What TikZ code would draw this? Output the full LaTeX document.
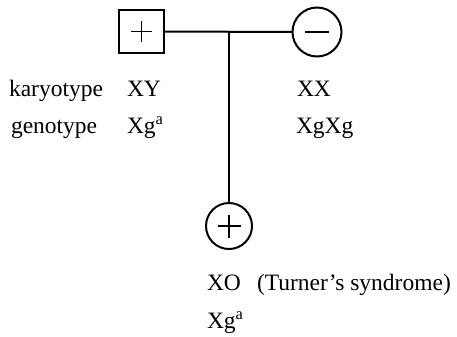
\documentclass[tikz,border=0pt]{standalone}
\usepackage{fontspec}
\setmainfont{Liberation Serif}
\begin{document}
\begin{tikzpicture}[x=1bp,y=-1bp,
    every node/.style={inner sep=0pt,outer sep=0pt},
    outline/.style={draw,line width=2bp},
    male/.style={outline,rectangle,minimum width=45bp,minimum height=43bp},
    female/.style={outline,circle,minimum size=#1},
    plussign/.style={path picture={
        \draw[line width=1.8bp] ([xshift=-#1]path picture bounding box.center) -- ([xshift=#1]path picture bounding box.center);
        \draw[line width=1.8bp] ([yshift=-#1]path picture bounding box.center) -- ([yshift=#1]path picture bounding box.center);}},
    minussign/.style={path picture={
        \draw[line width=1.8bp] ([xshift=-#1]path picture bounding box.center) -- ([xshift=#1]path picture bounding box.center);}},
    label/.style={anchor=base west,font=\fontsize{23.5bp}{28bp}\selectfont},
    link/.style={line width=2bp}]
\useasboundingbox (0,0) rectangle (457,336);

% parents and child
\node[male,plussign=10.5bp] (father) at (141.5,31.5) {};
\node[female=49bp,minussign=12bp] (mother) at (317,32) {};
\node[female=46bp,plussign=11.5bp] (child) at (229,226) {};

% mating line and descent line
\coordinate (mate) at (father.east -| child);
\draw[link] (father) -- (mother);
\draw[link] (mate) -- (child);

% annotations
\node[label] (karyo) at (9,96) {karyotype};
\node[label] (geno) at (11,133) {genotype};
\node[label] (fk) at (127,96) {XY};
\node[label] (fg) at (127,133) {Xg\textsuperscript{a}};
\node[label] (mk) at (297,96) {XX};
\node[label] (mg) at (296,133) {XgXg};
\node[label] (ck) at (207,290) {XO};
\node[label] (turner) at (257,290) {(Turner’s syndrome)};
\node[label] (cg) at (207,328) {Xg\textsuperscript{a}};
\end{tikzpicture}
\end{document}
